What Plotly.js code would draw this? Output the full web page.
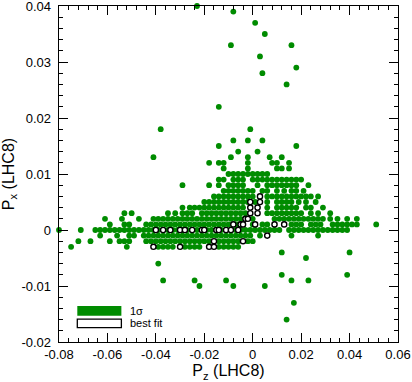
<!DOCTYPE html>
<html>
<head>
<meta charset="utf-8">
<script src="https://cdn.plot.ly/plotly-3.0.1.min.js"></script>
<style>html,body{margin:0;padding:0;background:#fff;}#chart{width:412px;height:382px;}</style>
</head>
<body>
<div id="chart"></div>
<script>
// All coordinates below are in units of 1e-3.
// Rows of the dense green (1 sigma) region: y value of each row, and the x values in that row.
const greenRowY = [18, 16, 15, 14, 13, 12, 11, 10, 9, 8, 7, 6, 5, 4, 3, 2, 1, 0, -1, -2, -3];
const greenRowX = [
  [-38, -1],
  [-8, -2, 4],
  [-14, 18],
  [-6, 2],
  [-41, -9, -2, 7, 12],
  [-18, -14, -12, -2, 8, 10, 15],
  [-12, -2, 10, 12, 15],
  [-10, -8, -6, -4, -2, 0, 2, 4, 6],
  [-14, -12, -8, -6, -4, 0, 2, 4, 6, 8, 10, 12, 14, 16, 18, 20],
  [-29, -18, -14, -10, -8, -6, -4, 2, 6, 8, 10, 12, 14, 16, 18, 23],
  [-12, -10, -8, -6, -4, -2, 0, 4, 6, 10, 13, 16, 18, 21],
  [-16, -14, -12, -10, -8, -6, -4, -2, 0, 6, 8, 10, 12, 14, 16, 18, 20, 22, 24, 27],
  [-20, -18, -16, -14, -12, -10, -8, -6, -4, -2, 1, 6, 10, 12, 14, 16, 19, 22, 26],
  [-29, -26, -24, -22, -20, -18, -16, -14, -12, -10, -8, -6, -4, 6, 10, 12, 14, 16, 18, 22, 24, 29],
  [-53, -50, -35, -32, -29, -27, -25, -21, -19, -17, -15, -13, -11, -9, -7, -5, -3, 6, 8, 10, 12, 14, 16, 18, 20, 24, 27, 32],
  [-61, -54, -47, -41, -39, -37, -35, -33, -31, -29, -27, -25, -23, -21, -19, -17, -15, -13, -11, -9, -7, -5, 0, 9, 11, 13, 15, 17, 19, 21, 23, 25, 27, 29, 32, 35, 39, 43],
  [-59, -53, -51, -44, -42, -40, -38, -36, -34, -32, -30, -28, -26, -24, -22, -20, -18, -16, -14, -12, -10, -8, -6, -4, 0, 4, 6, 16, 18, 20, 24, 26, 28, 33, 35, 37, 39, 41, 43, 51],
  [-80, -71, -65, -63, -61, -59, -57, -55, -53, -51, -49, -47, -45, -43, -41, -39, -37, -35, -33, -31, -29, -27, -25, -23, -21, -19, -17, -15, -13, -11, -9, -7, -5, -3, -1, 1, 3, 5, 7, 9, 11, 15, 17, 19, 21, 23, 25, 27, 29, 31, 33, 35, 37, 39],
  [-63, -56, -51, -49, -45, -43, -41, -39, -37, -35, -33, -31, -29, -27, -25, -23, -21, -19, -17, -15, -13, -11, -9, -7, -5, -3, -1, 3, 16, 27],
  [-72, -67, -59, -55, -53, -51, -44, -42, -40, -38, -36, -34, -32, -30, -28, -26, -24, -22, -20, -18, -14, -12, -10, -8, -6, -2, 0],
  [-75, -52, -39, -37, -35, -33, -28, -26, -24, -22, -14, -12, -10, -8, -6]
];
// Isolated green points
const outlierX = [-23, -8, 1, 5, -9, 16, 3, 18, 4, 14, -14, 12, 22, 40, -39, 12, 39, -37, -24, -11, 16, 23, -22, -8, 5, 17, 14];
const outlierY = [40, 39, 37, 35, 33, 33, 31, 29, 28, 26, 22, -4, -5, -4, -6, -8, -8, -9, -9, -9, -9, -9, -10, -10, -10, -13, -16];
// Best-fit points (white with black outline)
const bestX = [3, -1, 3, -1, 2, -1, 2, -3, -2, -8, -5, -4, 1, 9, 13, -40, -37, -34, -30, -28, -25, -21, -20, -15, -14, -11, -9, -6, 6, -16, -4, -41, -30, -18, -16];
const bestY = [6, 5, 5, 4, 4, 3, 3, 2, 2, 1, 1, 1, 1, 1, 1, 0, 0, 0, 0, 0, 0, 0, 0, 0, 0, 0, 0, 0, -1, -2, -2, -3, -3, -3, -3];

const xTickVals = [-0.08, -0.06, -0.04, -0.02, 0, 0.02, 0.04, 0.06];
const xTickText = ['-0.08', '-0.06', '-0.04', '-0.02', '0', '0.02', '0.04', '0.06'];
const yTickVals = [-0.02, -0.01, 0, 0.01, 0.02, 0.03, 0.04];
const yTickText = ['-0.02', '-0.01', '0', '0.01', '0.02', '0.03', '0.04'];
const legendLabels = ['1\u03c3', 'best fit'];

const S = 1e-3;
const gx = [], gy = [];
greenRowY.forEach((yv, i) => { greenRowX[i].forEach(xv => { gx.push(xv * S); gy.push(yv * S); }); });
outlierX.forEach((xv, i) => { gx.push(xv * S); gy.push(outlierY[i] * S); });

const GREEN = '#008c00';
const FONT = 'Liberation Sans, Arial, Helvetica, sans-serif';

const traces = [
  {type: 'scatter', mode: 'markers', x: gx, y: gy, cliponaxis: false, hoverinfo: 'skip',
   marker: {size: 5.8, color: GREEN, line: {width: 0}}},
  {type: 'scatter', mode: 'markers', x: bestX.map(v => v * S), y: bestY.map(v => v * S), cliponaxis: false, hoverinfo: 'skip',
   marker: {size: 5.2, color: '#ffffff', line: {width: 1.4, color: '#000000'}}}
];

const axisCommon = {
  showgrid: false, zeroline: false, showline: true, linecolor: '#000', linewidth: 1.3,
  mirror: 'allticks', ticks: 'inside', ticklen: 9, tickwidth: 1, tickcolor: '#000',
  ticklabeloverflow: 'allow',
  tickfont: {family: FONT, size: 13, color: '#000'}, automargin: false
};

const layout = {
  width: 412, height: 382,
  margin: {l: 59, r: 14, t: 6, b: 40, pad: 0},
  paper_bgcolor: '#fff', plot_bgcolor: '#fff',
  showlegend: false,
  font: {family: FONT, color: '#000'},
  xaxis: Object.assign({}, axisCommon, {
    range: [-0.08, 0.06], tickmode: 'array', tickvals: xTickVals, ticktext: xTickText,
    minor: {tickmode: 'linear', tick0: -0.08, dtick: 0.004, ticks: 'inside', ticklen: 4, tickwidth: 1, tickcolor: '#000', showgrid: false},
    title: {text: 'P<sub>z</sub> (LHC8)', font: {family: FONT, size: 16, color: '#000'}, standoff: 4}
  }),
  yaxis: Object.assign({}, axisCommon, {
    range: [-0.02, 0.04], tickmode: 'array', tickvals: yTickVals, ticktext: yTickText,
    ticklabelstandoff: 4,
    minor: {tickmode: 'linear', tick0: -0.02, dtick: 0.002, ticks: 'inside', ticklen: 4, tickwidth: 1, tickcolor: '#000', showgrid: false},
    title: {text: 'P<sub>x</sub> (LHC8)', font: {family: FONT, size: 16, color: '#000'}, standoff: 6}
  }),
  shapes: [
    {type: 'rect', xref: 'paper', yref: 'paper', x0: 0.054, x1: 0.184, y0: 0.078, y1: 0.107,
     fillcolor: GREEN, line: {width: 0}},
    {type: 'rect', xref: 'paper', yref: 'paper', x0: 0.054, x1: 0.184, y0: 0.043, y1: 0.068,
     fillcolor: '#fff', line: {width: 1.3, color: '#000'}}
  ],
  annotations: [
    {xref: 'paper', yref: 'paper', x: 0.203, y: 0.0925, xanchor: 'left', yanchor: 'middle', showarrow: false,
     text: legendLabels[0], font: {family: FONT, size: 11, color: '#000'}},
    {xref: 'paper', yref: 'paper', x: 0.203, y: 0.0555, xanchor: 'left', yanchor: 'middle', showarrow: false,
     text: legendLabels[1], font: {family: FONT, size: 11, color: '#000'}}
  ]
};

Plotly.newPlot('chart', traces, layout, {staticPlot: true, displayModeBar: false});
</script>
</body>
</html>
